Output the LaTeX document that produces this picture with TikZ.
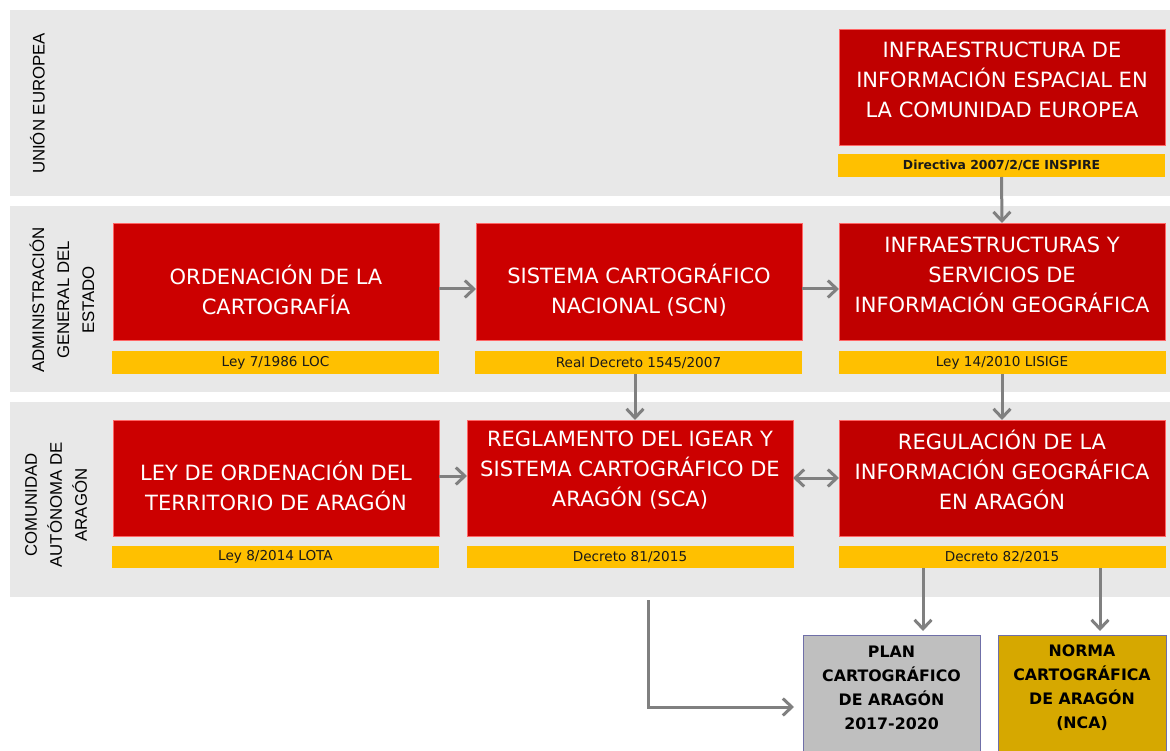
\documentclass[tikz,border=0pt]{standalone}
\usepackage{fontspec}
\setmainfont{DejaVu Sans}
\newfontfamily\arialf{Liberation Sans}
\usetikzlibrary{arrows.meta,calc}
\definecolor{bandc}{HTML}{E8E8E8}
\definecolor{redA}{HTML}{CC0000}
\definecolor{redB}{HTML}{C00000}
\definecolor{yel}{HTML}{FFC000}
\definecolor{arrg}{HTML}{808080}
\definecolor{plang}{HTML}{BFBFBF}
\definecolor{normg}{HTML}{D6A800}
\definecolor{bord}{HTML}{6F6FA8}
\begin{document}
\begin{tikzpicture}[x=1pt,y=-1pt,
  box/.style={inner sep=0pt,outer sep=0pt,minimum width=326pt,minimum height=116pt},
  redboxA/.style={box,fill=redA,draw=red!60!white,line width=0.6pt},
  redboxB/.style={box,fill=redB,draw=red!60!white,line width=0.6pt},
  yelbox/.style={inner sep=0pt,outer sep=0pt,fill=yel,minimum width=327pt,minimum height=23pt,
     font=\fontsize{13.6}{15}\selectfont,text=black!90},
  redtext/.style={inner sep=0pt,align=center,text=white,font=\fontsize{21}{30}\selectfont},
  bandlabel/.style={inner sep=0pt,align=center,rotate=90,font=\arialf\fontsize{16.8}{25}\selectfont},
  endbox/.style={inner sep=0pt,outer sep=0pt,draw=bord,line width=0.8pt,minimum height=120pt},
  endtext/.style={inner sep=0pt,align=center,font=\bfseries\fontsize{15.8}{24}\selectfont},
  arr/.style={draw=arrg,line width=3pt,-{Straight Barb[length=9pt,width=17pt]}},
  darr/.style={draw=arrg,line width=3pt,{Straight Barb[length=9pt,width=17pt]}-{Straight Barb[length=9pt,width=17pt]}}
]
\useasboundingbox (0,0) rectangle (1170,751);
\fill[white] (0,0) rectangle (1170,751);
% bands
\fill[bandc] (10,10) rectangle (1170,196);
\fill[bandc] (10,206) rectangle (1170,392);
\fill[bandc] (10,402) rectangle (1170,597);
\node[bandlabel] (l1) at (37.5,103.5) {UNIÓN EUROPEA};
\node[bandlabel] (l2) at (62,300) {ADMINISTRACIÓN\\GENERAL DEL\\ESTADO};
\node[bandlabel] (l3) at (56,505) {COMUNIDAD\\AUTÓNOMA DE\\ARAGÓN};
% row 1
\node[redboxB] (eu) at (1002,87) {};
\node[redtext] (eut) at (1002,80) {INFRAESTRUCTURA DE\\INFORMACIÓN ESPACIAL EN\\LA COMUNIDAD EUROPEA};
\node[yelbox] (euy) at (1001.5,165.5) {\bfseries\fontsize{12.4}{15}\selectfont Directiva 2007/2/CE INSPIRE};
% row 2
\node[redboxA,minimum height=117pt] (b1) at (276,281.5) {};
\node[redtext] (b1t) at (276,290) {ORDENACIÓN DE LA\\CARTOGRAFÍA};
\node[yelbox] (y1) at (275.5,362.5) {Ley 7/1986 LOC};
\node[redboxA,minimum height=117pt] (b2) at (639,281.5) {};
\node[redtext] (b2t) at (639,290) {SISTEMA CARTOGRÁFICO\\NACIONAL (SCN)};
\node[yelbox] (y2) at (638.5,362.5) {Real Decreto 1545/2007};
\node[redboxB,minimum height=117pt] (b3) at (1002,281.5) {};
\node[redtext] (b3t) at (1002,275) {INFRAESTRUCTURAS Y\\SERVICIOS DE\\INFORMACIÓN GEOGRÁFICA};
\node[yelbox] (y3) at (1002,362.5) {Ley 14/2010 LISIGE};
% row 3
\node[redboxA] (ley) at (276,478) {};
\node[redtext] (leyt) at (276,486) {LEY DE ORDENACIÓN DEL\\TERRITORIO DE ARAGÓN};
\node[yelbox,minimum height=22pt] (ly) at (275.5,557) {Ley 8/2014 LOTA};
\node[redboxA] (sca) at (630,478) {};
\node[redtext] (scat) at (630,470) {REGLAMENTO DEL IGEAR Y\\SISTEMA CARTOGRÁFICO DE\\ARAGÓN (SCA)};
\node[yelbox,minimum height=22pt] (scay) at (630,557) {Decreto 81/2015};
\node[redboxB] (reg) at (1002,478) {};
\node[redtext] (regt) at (1002,470) {REGULACIÓN DE LA\\INFORMACIÓN GEOGRÁFICA\\EN ARAGÓN};
\node[yelbox,minimum height=22pt] (regy) at (1002,557) {Decreto 82/2015};
% bottom boxes
\node[endbox,fill=plang,minimum width=177pt] (plan) at (891.5,695) {};
\node[endtext] (plant) at (891.5,688) {PLAN\\CARTOGRÁFICO\\DE ARAGÓN\\2017-2020};
\node[endbox,fill=normg,minimum width=168pt] (norma) at (1082,695) {};
\node[endtext] (normat) at (1082,688) {NORMA\\CARTOGRÁFICA\\DE ARAGÓN\\(NCA)};
% arrows
\draw[arr] (euy.south) -- (b3.north);
\draw[arr] (b1.east |- 0,289) -- (b2.west |- 0,289);
\draw[arr] (b2.east |- 0,289) -- (b3.west |- 0,289);
\draw[arr] (y2.south -| 635,0) -- (sca.north -| 635,0);
\draw[arr] (y3.south) -- (reg.north);
\draw[arr] (ley.east |- 0,476) -- (sca.west |- 0,476);
\draw[darr] (sca.east |- 0,478) -- (reg.west |- 0,478);
\draw[arr,shorten >=4pt] (regy.south -| 923,0) -- (plan.north -| 923,0);
\draw[arr,shorten >=4pt] (regy.south -| 1100,0) -- (norma.north -| 1100,0);
\coordinate (elb) at (648,600);
\draw[arr,shorten >=9pt] (elb) |- (plan.west |- 0,707);
\end{tikzpicture}
\end{document}
